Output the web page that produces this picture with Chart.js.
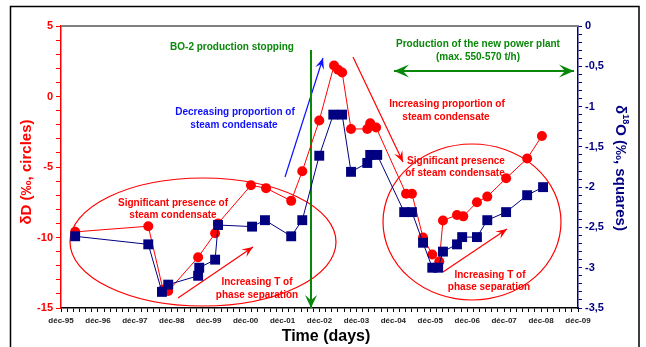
<!DOCTYPE html>
<html lang="fr">
<head>
<meta charset="UTF-8">
<title>dD / d18O</title>
<script src="https://cdn.jsdelivr.net/npm/chart.js@4.4.0/dist/chart.umd.min.js"></script>
<style>
  html, body { margin: 0; padding: 0; background: #fff; }
  #wrap { width: 646px; height: 347px; }
</style>
</head>
<body>
<div id="wrap"><canvas id="c" width="646" height="347"></canvas></div>
<script>
// sampling dates (decimal years) and values
var dDDates = [1996.30, 1998.28, 1998.68, 1998.82, 1999.63, 2000.09, 2000.17, 2001.06, 2001.47, 2002.15,
               2002.45, 2002.91, 2003.31, 2003.42, 2003.53, 2003.77, 2004.21, 2004.29, 2004.45, 2005.26,
               2005.42, 2005.72, 2005.97, 2006.16, 2006.26, 2006.64, 2006.81, 2007.18, 2007.46, 2007.97,
               2008.54, 2008.94];
var dDValues = [-9.6, -9.2, -13.7, -13.8, -11.4, -9.7, -9.0, -6.3, -6.5, -7.4,
                -5.3, -1.7, 2.2, 1.9, 1.7, -2.3, -2.3, -1.9, -2.2, -6.9,
                -6.9, -10.0, -11.2, -11.7, -8.8, -8.4, -8.5, -7.5, -7.1, -5.8,
                -4.4, -2.8];

var o18Dates = [1996.30, 1998.28, 1998.65, 1998.82, 1999.63, 1999.66, 2000.09, 2000.17, 2001.09, 2001.44,
                2002.15, 2002.45, 2002.91, 2003.29, 2003.53, 2003.77, 2004.21, 2004.29, 2004.48, 2005.21,
                2005.42, 2005.72, 2005.97, 2006.13, 2006.26, 2006.64, 2006.78, 2007.18, 2007.46, 2007.97,
                2008.54, 2008.97];
var o18Values = [-2.61, -2.71, -3.30, -3.21, -3.10, -3.00, -2.90, -2.47, -2.49, -2.41,
                 -2.61, -2.41, -1.61, -1.10, -1.10, -1.81, -1.70, -1.60, -1.60, -2.31,
                 -2.31, -2.69, -3.00, -3.00, -2.80, -2.71, -2.62, -2.62, -2.41, -2.31,
                 -2.10, -2.00];

var xTickLabels = ['déc-95', 'déc-96', 'déc-97', 'déc-98', 'déc-99', 'déc-00', 'déc-01', 'déc-02',
                   'déc-03', 'déc-04', 'déc-05', 'déc-06', 'déc-07', 'déc-08', 'déc-09'];

var X0 = 1995 + 11 / 12;
var RED = '#ff0000';
var NAVY = '#000080';
var GREEN = '#0a880a';
var BLUE = '#1010ff';
var FONT = '"Liberation Sans", Arial, sans-serif';

function pts(xs, ys) {
    var out = [];
    for (var i = 0; i < xs.length; i++) out.push({ x: xs[i], y: ys[i] });
    return out;
}

function arrowHead(ctx, x1, y1, x2, y2, len, w) {
    var a = Math.atan2(y2 - y1, x2 - x1);
    ctx.beginPath();
    ctx.moveTo(x2, y2);
    ctx.lineTo(x2 - len * Math.cos(a) + w / 2 * Math.sin(a), y2 - len * Math.sin(a) - w / 2 * Math.cos(a));
    ctx.lineTo(x2 - len * 0.6 * Math.cos(a), y2 - len * 0.6 * Math.sin(a));
    ctx.lineTo(x2 - len * Math.cos(a) - w / 2 * Math.sin(a), y2 - len * Math.sin(a) + w / 2 * Math.cos(a));
    ctx.closePath();
    ctx.fill();
}

function arrow(ctx, x1, y1, x2, y2, color, lw, len, w, both) {
    ctx.save();
    ctx.strokeStyle = color;
    ctx.fillStyle = color;
    ctx.lineWidth = lw;
    ctx.beginPath();
    ctx.moveTo(x1, y1);
    ctx.lineTo(x2, y2);
    ctx.stroke();
    arrowHead(ctx, x1, y1, x2, y2, len, w);
    if (both) arrowHead(ctx, x2, y2, x1, y1, len, w);
    ctx.restore();
}

function text(ctx, s, x, y, color, size) {
    ctx.save();
    ctx.fillStyle = color;
    ctx.font = 'bold ' + (size || 10) + 'px ' + FONT;
    ctx.textAlign = 'center';
    ctx.textBaseline = 'middle';
    ctx.fillText(s, x, y);
    ctx.restore();
}

var decor = {
    id: 'decor',
    beforeDraw: function (chart) {
        var ctx = chart.ctx;
        ctx.save();
        ctx.strokeStyle = '#000';
        ctx.lineWidth = 1.5;
        ctx.strokeRect(10.5, 6.5, 628.5, 345);
        ctx.restore();
    },
    beforeDatasetsDraw: function (chart) {
        var ctx = chart.ctx, a = chart.chartArea;
        ctx.save();
        // top border of plot
        ctx.strokeStyle = '#808080';
        ctx.lineWidth = 2;
        ctx.beginPath();
        ctx.moveTo(a.left, a.top);
        ctx.lineTo(a.right, a.top);
        ctx.stroke();
        // ellipses
        ctx.strokeStyle = RED;
        ctx.lineWidth = 1.2;
        ctx.beginPath();
        ctx.ellipse(203, 242, 133, 64, 0, 0, Math.PI * 2);
        ctx.stroke();
        ctx.beginPath();
        ctx.ellipse(472, 222, 89, 78, 0, 0, Math.PI * 2);
        ctx.stroke();
        ctx.restore();

        arrow(ctx, 178, 298, 253, 247, RED, 1.2, 11, 9);
        arrow(ctx, 443, 272, 507, 229, RED, 1.2, 11, 9);
        arrow(ctx, 353, 57, 403, 162, RED, 1.2, 11, 9);
        arrow(ctx, 285, 177, 323, 58, BLUE, 1.2, 11, 9);
        arrow(ctx, 311, 50, 311, 308, GREEN, 2, 13, 12);
        arrow(ctx, 394, 71, 574, 71, GREEN, 2, 15, 13, true);
    },
    afterDatasetsDraw: function (chart) {
        var ctx = chart.ctx;
        text(ctx, 'BO-2 production stopping', 232, 47, GREEN);
        text(ctx, 'Production of the new power plant', 478, 44, GREEN);
        text(ctx, '(max. 550-570 t/h)', 478, 57, GREEN);
        text(ctx, 'Decreasing proportion of', 235, 112, BLUE);
        text(ctx, 'steam condensate', 234, 125, BLUE);
        text(ctx, 'Increasing proportion of', 447, 104, RED);
        text(ctx, 'steam condensate', 446, 117, RED);
        text(ctx, 'Significant presence', 456, 161, RED);
        text(ctx, 'of steam condensate', 455, 173, RED);
        text(ctx, 'Significant presence of', 173, 203, RED);
        text(ctx, 'steam condensate', 173, 215, RED);
        text(ctx, 'Increasing T of', 257, 282, RED);
        text(ctx, 'phase separation', 257, 295, RED);
        text(ctx, 'Increasing T of', 490, 275, RED);
        text(ctx, 'phase separation', 489, 287, RED);

        // axis titles
        text(ctx, 'Time (days)', 326, 337, '#000', 16);

        ctx.save();
        ctx.translate(27, 172);
        ctx.rotate(-Math.PI / 2);
        text(ctx, 'δD (‰, circles)', 0, 0, RED, 15);
        ctx.restore();

        ctx.save();
        ctx.translate(620, 168);
        ctx.rotate(Math.PI / 2);
        ctx.fillStyle = NAVY;
        ctx.textBaseline = 'middle';
        ctx.textAlign = 'left';
        var big = 'bold 15px ' + FONT, small = 'bold 9px ' + FONT;
        ctx.font = big;
        var w1 = ctx.measureText('δ').width;
        var w3 = ctx.measureText('O (‰, squares)').width;
        ctx.font = small;
        var w2 = ctx.measureText('18').width;
        var x = -(w1 + w2 + w3) / 2;
        ctx.font = big;
        ctx.fillText('δ', x, 0);
        ctx.font = small;
        ctx.fillText('18', x + w1, -5);
        ctx.font = big;
        ctx.fillText('O (‰, squares)', x + w1 + w2, 0);
        ctx.restore();
    }
};

new Chart(document.getElementById('c'), {
    type: 'scatter',
    data: {
        datasets: [{
            label: 'd18O',
            data: pts(o18Dates, o18Values),
            yAxisID: 'y2',
            showLine: true,
            borderColor: NAVY,
            borderWidth: 1,
            backgroundColor: NAVY,
            pointStyle: 'rect',
            pointRadius: 7,
            pointBorderWidth: 0
        }, {
            label: 'dD',
            data: pts(dDDates, dDValues),
            yAxisID: 'y',
            showLine: true,
            borderColor: RED,
            borderWidth: 1,
            backgroundColor: RED,
            pointStyle: 'circle',
            pointRadius: 5,
            pointBorderWidth: 0
        }]
    },
    options: {
        responsive: false,
        animation: false,
        layout: { padding: { top: 26, left: 0, right: 0, bottom: 0 } },
        plugins: { legend: { display: false }, tooltip: { enabled: false } },
        scales: {
            x: {
                type: 'linear',
                min: X0,
                max: X0 + 14,
                afterBuildTicks: function (s) {
                    var t = [];
                    for (var k = 0; k <= 84; k++) t.push({ value: X0 + k / 6 });
                    s.ticks = t;
                },
                afterFit: function (s) { s.height = 39; },
                ticks: {
                    autoSkip: false,
                    maxRotation: 0,
                    padding: 4,
                    color: '#222',
                    font: { family: FONT, size: 8, weight: 'bold' },
                    callback: function (v, i) { return i % 6 === 0 ? xTickLabels[i / 6] : ''; }
                },
                grid: { drawOnChartArea: false, tickLength: 4, color: '#000' },
                border: { display: true, color: '#000', width: 1.5 }
            },
            y: {
                position: 'left',
                min: -15,
                max: 5,
                afterBuildTicks: function (s) {
                    var t = [];
                    for (var k = -15; k <= 5; k++) t.push({ value: k });
                    s.ticks = t;
                },
                afterFit: function (s) { s.width = 61; },
                ticks: {
                    autoSkip: false,
                    padding: 3,
                    color: RED,
                    font: { family: FONT, size: 11, weight: 'bold' },
                    callback: function (v, i) { return i % 5 === 0 ? String(v) : ''; }
                },
                grid: { drawOnChartArea: false, tickLength: 5, color: RED },
                border: { display: true, color: RED, width: 1.5 }
            },
            y2: {
                position: 'right',
                min: -3.5,
                max: 0,
                afterBuildTicks: function (s) {
                    var t = [];
                    for (var k = 0; k <= 35; k++) t.push({ value: (k - 35) / 10 });
                    s.ticks = t;
                },
                afterFit: function (s) { s.width = 68; },
                ticks: {
                    autoSkip: false,
                    padding: 3,
                    color: NAVY,
                    font: { family: FONT, size: 11, weight: 'bold' },
                    callback: function (v, i) {
                        if (i % 5 !== 0) return '';
                        var s = (Math.round(v * 10) / 10).toString();
                        return s.replace('.', ',');
                    }
                },
                grid: { drawOnChartArea: false, tickLength: 4, color: NAVY },
                border: { display: true, color: NAVY, width: 1.5 }
            }
        }
    },
    plugins: [decor]
});
</script>
</body>
</html>
